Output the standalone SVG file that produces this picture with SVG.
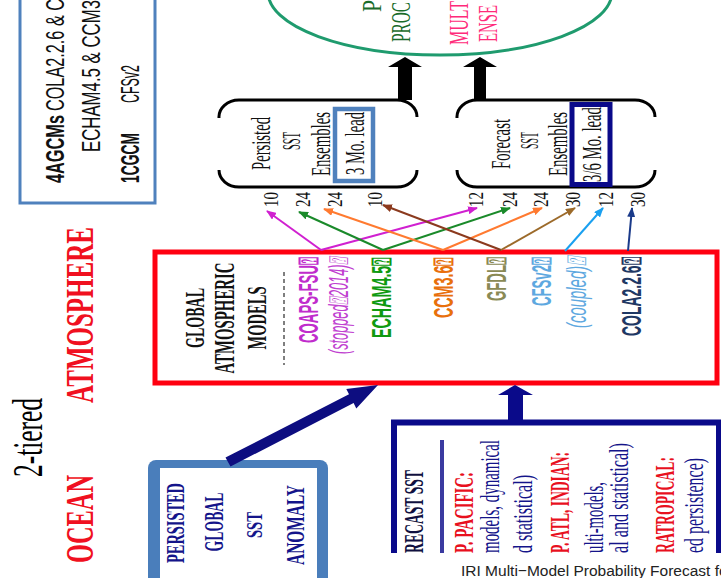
<svg xmlns="http://www.w3.org/2000/svg" width="721" height="578" viewBox="0 0 721 578">
<style>
.serif{font-family:"Liberation Serif","Times New Roman",serif}
.sans{font-family:"Liberation Sans Narrow","Liberation Sans",Arial,sans-serif}
.b{font-weight:bold}
.i{font-style:italic}
.bracket{fill:none;stroke:#000;stroke-width:3}
.num{font-family:"Liberation Serif","Times New Roman",serif;font-size:22px;fill:#111}
.navytx{fill:#14148a}
.redtx{fill:#e8101e}
</style>
<defs>
<marker id="aMag" markerUnits="userSpaceOnUse" markerWidth="10" markerHeight="8" refX="9" refY="4" orient="auto"><path d="M0,0 L10,4 L0,8 z" fill="#d020d0"/></marker>
<marker id="aGrn" markerUnits="userSpaceOnUse" markerWidth="10" markerHeight="8" refX="9" refY="4" orient="auto"><path d="M0,0 L10,4 L0,8 z" fill="#1a8a2a"/></marker>
<marker id="aOrg" markerUnits="userSpaceOnUse" markerWidth="10" markerHeight="8" refX="9" refY="4" orient="auto"><path d="M0,0 L10,4 L0,8 z" fill="#ff7a30"/></marker>
<marker id="aBrD" markerUnits="userSpaceOnUse" markerWidth="10" markerHeight="8" refX="9" refY="4" orient="auto"><path d="M0,0 L10,4 L0,8 z" fill="#8b3a1e"/></marker>
<marker id="aBrL" markerUnits="userSpaceOnUse" markerWidth="10" markerHeight="8" refX="9" refY="4" orient="auto"><path d="M0,0 L10,4 L0,8 z" fill="#9c6a2a"/></marker>
<marker id="aSky" markerUnits="userSpaceOnUse" markerWidth="10" markerHeight="8" refX="9" refY="4" orient="auto"><path d="M0,0 L10,4 L0,8 z" fill="#1aa0f0"/></marker>
<marker id="aNav" markerUnits="userSpaceOnUse" markerWidth="10" markerHeight="8" refX="9" refY="4" orient="auto"><path d="M0,0 L10,4 L0,8 z" fill="#1a3a8a"/></marker>
<clipPath id="clipBottom"><rect x="380" y="410" width="341" height="143"/></clipPath>
</defs>
<rect width="721" height="578" fill="#fff"/>

<g id="side-labels">
<text class="serif" font-size="42" textLength="79" lengthAdjust="spacingAndGlyphs" transform="translate(42,477) rotate(-90)">2-tiered</text>
<text class="serif b" font-size="40" fill="#f01020" textLength="176" lengthAdjust="spacingAndGlyphs" transform="translate(93,403) rotate(-90)">ATMOSPHERE</text>
<text class="serif b" font-size="40" fill="#f01020" textLength="88" lengthAdjust="spacingAndGlyphs" transform="translate(93,563) rotate(-90)">OCEAN</text>
</g>

<g id="gcm-box">
<rect x="20" y="-10" width="135" height="213" fill="none" stroke="#4f81bd" stroke-width="3"/>
<text class="sans b" font-size="25" fill="#111" textLength="68" lengthAdjust="spacingAndGlyphs" transform="translate(64,183) rotate(-90)">4AGCMs</text>
<text class="sans" font-size="25" fill="#111" textLength="112" lengthAdjust="spacingAndGlyphs" transform="translate(64,111) rotate(-90)">COLA2.2.6 &amp; C</text>
<text class="sans" font-size="25" fill="#111" textLength="152" lengthAdjust="spacingAndGlyphs" transform="translate(100,152) rotate(-90)">ECHAM4.5 &amp; CCM3</text>
<text class="sans b" font-size="25" fill="#111" textLength="50" lengthAdjust="spacingAndGlyphs" transform="translate(139,183) rotate(-90)">1CGCM</text>
<text class="sans" font-size="25" fill="#111" textLength="38" lengthAdjust="spacingAndGlyphs" transform="translate(139,103) rotate(-90)">CFSv2</text>
</g>

<g id="mme-ellipse">
<ellipse cx="440" cy="-8" rx="172" ry="63" fill="#fff" stroke="#1f9b6e" stroke-width="3"/>
<text class="serif" font-size="28" fill="#1a6b2a" textLength="12" lengthAdjust="spacingAndGlyphs" transform="translate(381,12) rotate(-90)">P</text>
<text class="serif" font-size="28" fill="#1a6b2a" textLength="40" lengthAdjust="spacingAndGlyphs" transform="translate(410,42) rotate(-90)">PROC</text>
<text class="serif" font-size="28" fill="#ff2a7a" textLength="44" lengthAdjust="spacingAndGlyphs" transform="translate(468,45) rotate(-90)">MULT</text>
<text class="serif" font-size="28" fill="#ff2a7a" textLength="37" lengthAdjust="spacingAndGlyphs" transform="translate(497,42) rotate(-90)">ENSE</text>
</g>

<g id="persisted-ens">
<path class="bracket" d="M219,118 A20,17 0 0 1 239,100 H397 A20,17 0 0 1 417,117"/>
<path class="bracket" d="M219,170 A20,17 0 0 0 239,187 H397 A20,17 0 0 0 417,170"/>
<text class="serif" font-size="27" fill="#111" textLength="53" lengthAdjust="spacingAndGlyphs" transform="translate(270,170) rotate(-90)">Persisted</text>
<text class="serif" font-size="26" fill="#111" textLength="18" lengthAdjust="spacingAndGlyphs" transform="translate(300,150) rotate(-90)">SST</text>
<text class="serif" font-size="27" fill="#111" textLength="64" lengthAdjust="spacingAndGlyphs" transform="translate(330,176) rotate(-90)">Ensembles</text>
<rect x="335" y="109" width="38" height="72" fill="#fff" stroke="#4f81bd" stroke-width="4.5"/>
<text class="serif" font-size="28" fill="#111" textLength="63" lengthAdjust="spacingAndGlyphs" transform="translate(364,175) rotate(-90)">3 Mo. lead</text>
</g>

<g id="forecast-ens">
<path class="bracket" d="M457,118 A20,17 0 0 1 477,100 H635 A20,17 0 0 1 655,117"/>
<path class="bracket" d="M457,170 A20,17 0 0 0 477,187 H635 A20,17 0 0 0 655,170"/>
<text class="serif" font-size="27" fill="#111" textLength="50" lengthAdjust="spacingAndGlyphs" transform="translate(510,169) rotate(-90)">Forecast</text>
<text class="serif" font-size="26" fill="#111" textLength="17" lengthAdjust="spacingAndGlyphs" transform="translate(538,149) rotate(-90)">SST</text>
<text class="serif" font-size="27" fill="#111" textLength="64" lengthAdjust="spacingAndGlyphs" transform="translate(567,176) rotate(-90)">Ensembles</text>
<rect x="572" y="104.5" width="38" height="80" fill="#fff" stroke="#0a0a8a" stroke-width="5"/>
<text class="serif" font-size="28" fill="#111" textLength="75" lengthAdjust="spacingAndGlyphs" transform="translate(601,182) rotate(-90)">3/6 Mo. lead</text>
</g>

<g id="leads">
<text class="num" textLength="15" lengthAdjust="spacingAndGlyphs" transform="translate(278,207) rotate(-90)">10</text>
<text class="num" textLength="15" lengthAdjust="spacingAndGlyphs" transform="translate(310,207) rotate(-90)">24</text>
<text class="num" textLength="15" lengthAdjust="spacingAndGlyphs" transform="translate(342,207) rotate(-90)">24</text>
<text class="num" textLength="15" lengthAdjust="spacingAndGlyphs" transform="translate(382,207) rotate(-90)">10</text>
<text class="num" textLength="15" lengthAdjust="spacingAndGlyphs" transform="translate(483,207) rotate(-90)">12</text>
<text class="num" textLength="15" lengthAdjust="spacingAndGlyphs" transform="translate(517,207) rotate(-90)">24</text>
<text class="num" textLength="15" lengthAdjust="spacingAndGlyphs" transform="translate(548,207) rotate(-90)">24</text>
<text class="num" textLength="15" lengthAdjust="spacingAndGlyphs" transform="translate(580,207) rotate(-90)">30</text>
<text class="num" textLength="15" lengthAdjust="spacingAndGlyphs" transform="translate(613,207) rotate(-90)">12</text>
<text class="num" textLength="15" lengthAdjust="spacingAndGlyphs" transform="translate(645,207) rotate(-90)">30</text>
</g>

<g id="atm-models">
<rect x="155" y="252" width="562" height="131" fill="#fff" stroke="#ff0010" stroke-width="5"/>
<text class="serif b" font-size="28" fill="#111" text-anchor="middle" textLength="60" lengthAdjust="spacingAndGlyphs" transform="translate(204,318) rotate(-90)">GLOBAL</text>
<text class="serif b" font-size="29" fill="#111" text-anchor="middle" textLength="111" lengthAdjust="spacingAndGlyphs" transform="translate(234,318) rotate(-90)">ATMOSPHERIC</text>
<text class="serif b" font-size="28" fill="#111" text-anchor="middle" textLength="63" lengthAdjust="spacingAndGlyphs" transform="translate(266,318) rotate(-90)">MODELS</text>
<line x1="284" y1="272" x2="284" y2="365" stroke="#555" stroke-width="1.5" stroke-dasharray="4 3"/>
<text class="sans b" font-size="28" fill="#c02ccc" text-anchor="end" textLength="86" lengthAdjust="spacingAndGlyphs" transform="translate(318,257) rotate(-90)">COAPS-FSU⍰</text>
<text class="sans i" font-size="27" fill="#c040d0" text-anchor="end" textLength="97" lengthAdjust="spacingAndGlyphs" transform="translate(348,257) rotate(-90)">(stopped⍰2014)⍰</text>
<text class="sans b" font-size="28" fill="#109a10" text-anchor="end" textLength="81" lengthAdjust="spacingAndGlyphs" transform="translate(391,257) rotate(-90)">ECHAM4.5⍰</text>
<text class="sans b" font-size="28" fill="#e8700c" text-anchor="end" textLength="61" lengthAdjust="spacingAndGlyphs" transform="translate(453,257) rotate(-90)">CCM3.6⍰</text>
<text class="sans b" font-size="28" fill="#8a8a55" text-anchor="end" textLength="44" lengthAdjust="spacingAndGlyphs" transform="translate(506,257) rotate(-90)">GFDL⍰</text>
<text class="sans b" font-size="28" fill="#5ea8e0" text-anchor="end" textLength="49" lengthAdjust="spacingAndGlyphs" transform="translate(551,257) rotate(-90)">CFSv2⍰</text>
<text class="sans i" font-size="27" fill="#5ea8e0" text-anchor="end" textLength="71" lengthAdjust="spacingAndGlyphs" transform="translate(586,257) rotate(-90)">(coupled)⍰</text>
<text class="sans b" font-size="28" fill="#1f3864" text-anchor="end" textLength="79" lengthAdjust="spacingAndGlyphs" transform="translate(641,257) rotate(-90)">COLA2.2.6⍰</text>
</g>

<g id="persisted-anom">
<rect x="148" y="460" width="180" height="140" rx="8" fill="#4a7ebb"/>
<rect x="160" y="468" width="157" height="130" fill="#fff"/>
<text class="serif b navytx" font-size="25" text-anchor="middle" textLength="80" lengthAdjust="spacingAndGlyphs" transform="translate(184,523) rotate(-90)">PERSISTED</text>
<text class="serif b navytx" font-size="28" text-anchor="middle" textLength="59" lengthAdjust="spacingAndGlyphs" transform="translate(223,522) rotate(-90)">GLOBAL</text>
<text class="serif b navytx" font-size="23" text-anchor="middle" textLength="26" lengthAdjust="spacingAndGlyphs" transform="translate(262,525) rotate(-90)">SST</text>
<text class="serif b navytx" font-size="25" text-anchor="middle" textLength="80" lengthAdjust="spacingAndGlyphs" transform="translate(304,525) rotate(-90)">ANOMALY</text>
</g>

<g id="forecast-sst" clip-path="url(#clipBottom)">
<path d="M394,560 V422.5 H719 V560" fill="#fff" stroke="#0a0a8a" stroke-width="6"/>
<line x1="442" y1="440" x2="442" y2="560" stroke="#3a3aa0" stroke-width="4"/>
<text class="serif b" font-size="28" fill="#101040" text-anchor="end" textLength="83" lengthAdjust="spacingAndGlyphs" transform="translate(423,470) rotate(-90)">RECAST SST</text>
<text class="serif b redtx" font-size="28" text-anchor="end" textLength="81" lengthAdjust="spacingAndGlyphs" transform="translate(473,472) rotate(-90)">P. PACIFIC:</text>
<text class="serif navytx" font-size="28" text-anchor="end" textLength="113" lengthAdjust="spacingAndGlyphs" transform="translate(499,440) rotate(-90)">models, dynamical</text>
<text class="serif navytx" font-size="28" text-anchor="end" textLength="78" lengthAdjust="spacingAndGlyphs" transform="translate(532,475) rotate(-90)">d  statistical)</text>
<text class="serif b redtx" font-size="27" text-anchor="end" textLength="101" lengthAdjust="spacingAndGlyphs" transform="translate(569,452) rotate(-90)">P. ATL, INDIAN:</text>
<text class="serif navytx" font-size="28" text-anchor="end" textLength="71" lengthAdjust="spacingAndGlyphs" transform="translate(603,482) rotate(-90)">ulti-models,</text>
<text class="serif navytx" font-size="28" text-anchor="end" textLength="110" lengthAdjust="spacingAndGlyphs" transform="translate(628,443) rotate(-90)">al and statistical)</text>
<text class="serif b redtx" font-size="28" text-anchor="end" textLength="96" lengthAdjust="spacingAndGlyphs" transform="translate(674,457) rotate(-90)">RATROPICAL:</text>
<text class="serif navytx" font-size="28" text-anchor="end" textLength="95" lengthAdjust="spacingAndGlyphs" transform="translate(703,458) rotate(-90)">ed persistence)</text>
</g>

<g id="connectors">
<g fill="none" stroke-width="2">
<line x1="321" y1="250" x2="267" y2="211" stroke="#d020d0" marker-end="url(#aMag)"/>
<line x1="321" y1="250" x2="477" y2="208" stroke="#d020d0" marker-end="url(#aMag)"/>
<line x1="383" y1="250" x2="299" y2="212" stroke="#1a8a2a" marker-end="url(#aGrn)"/>
<line x1="383" y1="250" x2="510" y2="208" stroke="#1a8a2a" marker-end="url(#aGrn)"/>
<line x1="443" y1="250" x2="324" y2="209" stroke="#ff7a30" marker-end="url(#aOrg)"/>
<line x1="443" y1="250" x2="542" y2="208" stroke="#ff7a30" marker-end="url(#aOrg)"/>
<line x1="501" y1="250" x2="383" y2="205" stroke="#8b3a1e" marker-end="url(#aBrD)"/>
<line x1="501" y1="250" x2="575" y2="208" stroke="#9c6a2a" marker-end="url(#aBrL)"/>
<line x1="565" y1="251" x2="603" y2="208" stroke="#1aa0f0" marker-end="url(#aSky)"/>
<line x1="628" y1="251" x2="632" y2="208" stroke="#1a3a8a" marker-end="url(#aNav)"/>
</g>
<polygon points="398,100 398,67 388,67 405,57 422,67 412,67 412,100" fill="#000"/>
<polygon points="474,100 474,67 463,67 480,57 497,67 486,67 486,100" fill="#000"/>
<polygon points="508,421 508,395 498,395 515,385 533,395 523,395 523,421" fill="#0a0a8a"/>
<polygon points="225.5,457.5 349,394.3 346.3,388.9 378,385 356.3,408.5 353.6,403.1 230.5,466.5" fill="#0d0d80"/>
</g>

<text x="461" y="576" font-family="Liberation Sans,Arial,sans-serif" font-size="15.5" fill="#222">IRI Multi−Model Probability Forecast fo</text>
</svg>
